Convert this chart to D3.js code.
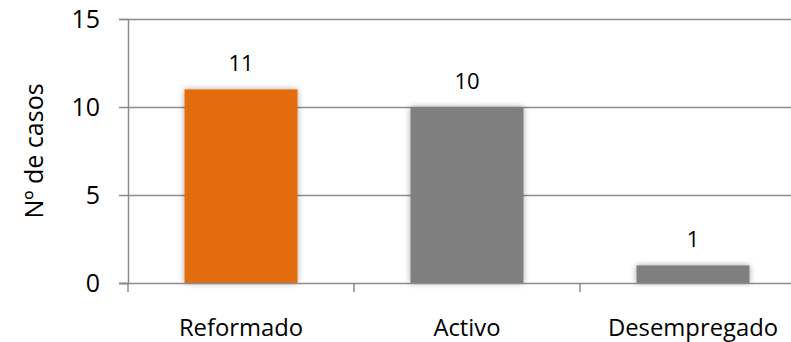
<!DOCTYPE html>
<html>
<head>
<meta charset="utf-8">
<script src="https://cdn.jsdelivr.net/npm/d3@7"></script>
<style>
  html, body { margin: 0; padding: 0; background: #fff; }
  svg { display: block; font-family: "Open Sans", sans-serif; }
</style>
</head>
<body>
<svg id="chart" width="791" height="342"></svg>
<script>
// Situação profissional – número de casos
const categories = ["Reformado", "Activo", "Desempregado"];
const values = [11, 10, 1];
const barColors = ["#e36c0a", "#7f7f7f", "#7f7f7f"];
const yTicks = [0, 5, 10, 15];
const yTitle = "Nº de casos";

const svg = d3.select("#chart");
const margin = { left: 128, top: 19, bottom: 283, right: 806 };

const x = d3.scaleBand().domain(categories).range([margin.left, margin.right]).paddingInner(0.5).paddingOuter(0.25);
const y = d3.scaleLinear().domain([0, 15]).range([margin.bottom, margin.top]);

const axisColor = "#8c8c8c";

// soft shadow around bars
const defs = svg.append("defs");
const f = defs.append("filter").attr("id", "shadow").attr("x", "-20%").attr("y", "-20%").attr("width", "140%").attr("height", "140%");
f.append("feGaussianBlur").attr("in", "SourceAlpha").attr("stdDeviation", 3).attr("result", "b");
f.append("feComponentTransfer").attr("in", "b").attr("result", "s")
  .append("feFuncA").attr("type", "linear").attr("slope", 0.35);
const m = f.append("feMerge");
m.append("feMergeNode").attr("in", "s");
m.append("feMergeNode").attr("in", "SourceGraphic");

// horizontal gridlines
svg.append("g")
  .selectAll("line")
  .data(yTicks.filter(d => d > 0))
  .join("line")
  .attr("x1", margin.left).attr("x2", margin.right)
  .attr("y1", d => Math.round(y(d)) + 0.5).attr("y2", d => Math.round(y(d)) + 0.5)
  .attr("stroke", axisColor).attr("stroke-width", 1.5);

// y axis
const yAxis = svg.append("g")
  .attr("transform", `translate(${margin.left},0)`)
  .call(d3.axisLeft(y).tickValues(yTicks).tickSize(9).tickPadding(19));
yAxis.select(".domain").attr("stroke", axisColor).attr("stroke-width", 1.5);
yAxis.selectAll(".tick line").attr("stroke", axisColor).attr("stroke-width", 1.5);
yAxis.selectAll(".tick text").attr("font-size", 25).attr("fill", "#000").attr("font-family", "Open Sans, sans-serif");

// bars
svg.append("g")
  .selectAll("rect")
  .data(values)
  .join("rect")
  .attr("x", (d, i) => x(categories[i]))
  .attr("width", x.bandwidth())
  .attr("y", d => y(d))
  .attr("height", d => y(0) - y(d))
  .attr("fill", (d, i) => barColors[i])
  .attr("filter", "url(#shadow)");

// x axis
const xAxis = svg.append("g")
  .attr("transform", `translate(0,${margin.bottom})`);
xAxis.append("line")
  .attr("x1", margin.left - 9).attr("x2", margin.right)
  .attr("y1", 0.5).attr("y2", 0.5)
  .attr("stroke", axisColor).attr("stroke-width", 1.5);
const step = x.step();
const boundaries = d3.range(categories.length + 1).map(i => margin.left + i * step);
xAxis.selectAll("line.tk")
  .data(boundaries)
  .join("line").attr("class", "tk")
  .attr("x1", d => d).attr("x2", d => d)
  .attr("y1", 0).attr("y2", 9)
  .attr("stroke", axisColor).attr("stroke-width", 1.5);
xAxis.selectAll("text")
  .data(categories)
  .join("text")
  .attr("x", d => x(d) + x.bandwidth() / 2)
  .attr("y", 53)
  .attr("text-anchor", "middle")
  .attr("font-size", 23.8)
  .attr("fill", "#000")
  .text(d => d);

// value labels
svg.append("g")
  .selectAll("text")
  .data(values)
  .join("text")
  .attr("x", (d, i) => x(categories[i]) + x.bandwidth() / 2)
  .attr("y", d => y(d) - 18)
  .attr("text-anchor", "middle")
  .attr("font-size", 22)
  .attr("fill", "#000")
  .text(d => d);

// y axis title
svg.append("text")
  .attr("transform", `translate(43,151) rotate(-90)`)
  .attr("text-anchor", "middle")
  .attr("font-size", 25)
  .attr("fill", "#000")
  .text(yTitle);
</script>
</body>
</html>
